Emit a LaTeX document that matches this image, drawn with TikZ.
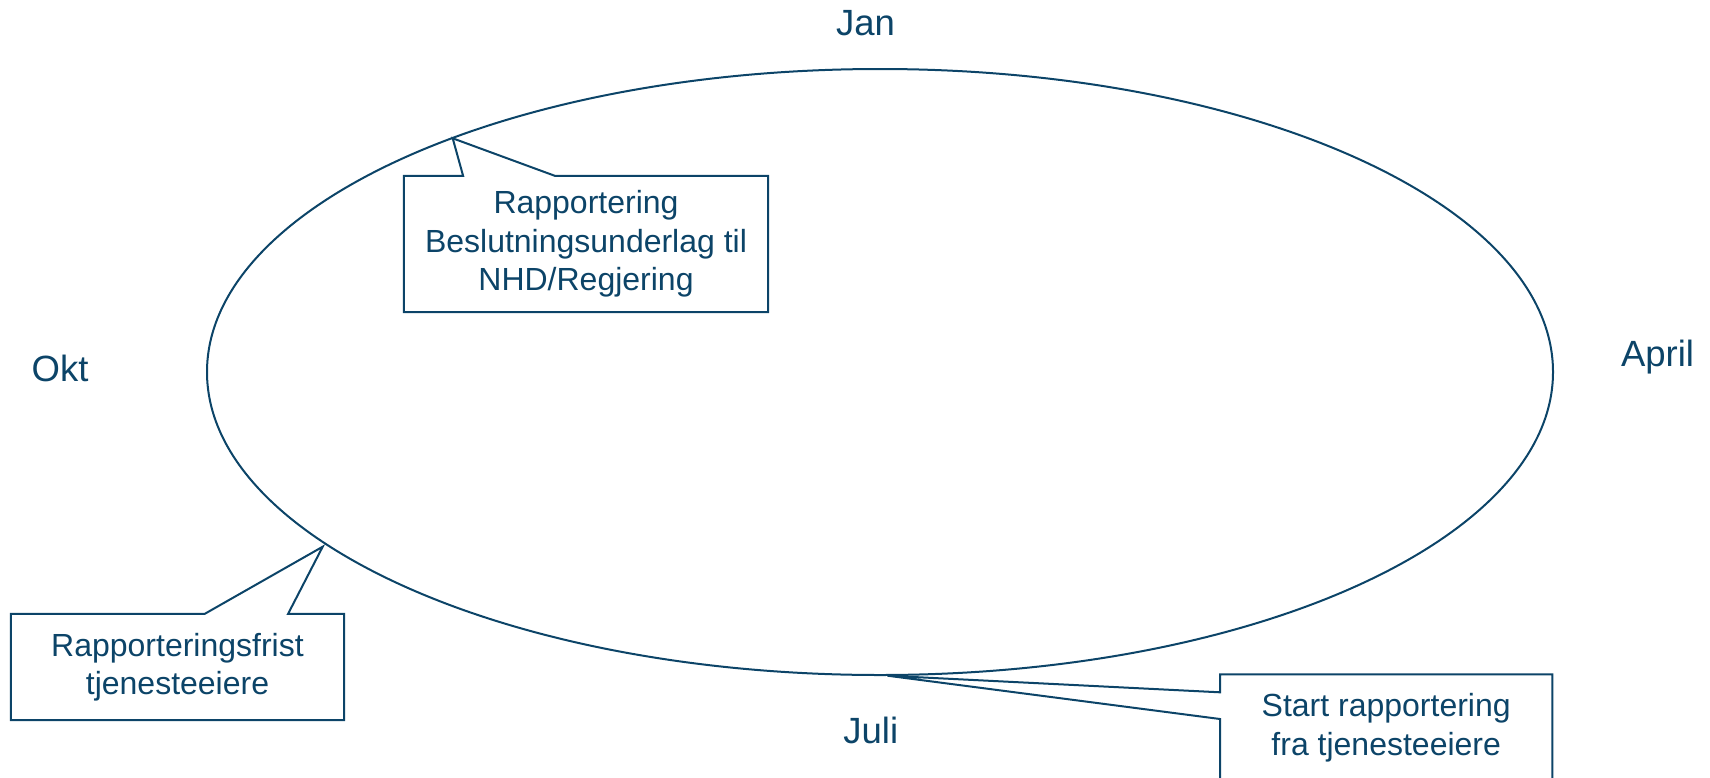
\documentclass[tikz,border=0pt]{standalone}
\usepackage{fontspec}
\setmainfont{Liberation Sans}
\definecolor{navy}{RGB}{12,68,104}
\tikzset{
  outline/.style={draw=navy, line width=2pt},
  month/.style={text=navy, font=\fontsize{36.5}{40}\selectfont, inner sep=0pt, anchor=base},
  callbox/.style={text=navy, font=\fontsize{32}{38.5}\selectfont, align=center, inner sep=0pt}
}
\begin{document}
\begin{tikzpicture}[x=1pt, y=-1pt]
\useasboundingbox (0,0) rectangle (1710,777);

% year cycle
\draw[outline] (880,372) ellipse [x radius=673, y radius=303];

% months
\node[month] (jan) at (865.5,35) {Jan};
\node[month] (okt) at (60,381.7) {Okt};
\node[month] (april) at (1657.5,366.7) {April};
\node[month] (juli) at (870.8,743.3) {Juli};

% callout: reporting to the ministry
\node[callbox, minimum width=364pt, minimum height=136pt] (b1) at (586,244)
  {Rapportering\\Beslutningsunderlag til\\NHD/Regjering};
\coordinate (t1) at (452.7,138.3);
\draw[outline] (b1.north west) -- ([xshift=59.3pt]b1.north west) -- (t1)
  -- ([xshift=151pt]b1.north west) -- (b1.north east) -- (b1.south east)
  -- (b1.south west) -- cycle;

% callout: deadline for service owners
\node[callbox, minimum width=333pt, minimum height=106pt] (b2) at (177.5,667)
  {Rapporteringsfrist\\tjenesteeiere};
\coordinate (t2) at (322.7,546.7);
\draw[outline] (b2.north west) -- ([xshift=194pt]b2.north west) -- (t2)
  -- ([xshift=277.3pt]b2.north west) -- (b2.north east) -- (b2.south east)
  -- (b2.south west) -- cycle;

% callout: start of reporting
\node[callbox, anchor=north west, minimum width=332pt, minimum height=106pt] (b3) at (1220,674.3)
  {Start rapportering\\fra tjenesteeiere};
\coordinate (t3) at (887.5,675.7);
\draw[outline] (b3.north west) -- (b3.north east) -- (b3.south east) -- (b3.south west)
  -- ([yshift=-44.7pt]b3.north west) -- (t3) -- ([yshift=-18pt]b3.north west) -- cycle;
\end{tikzpicture}
\end{document}
